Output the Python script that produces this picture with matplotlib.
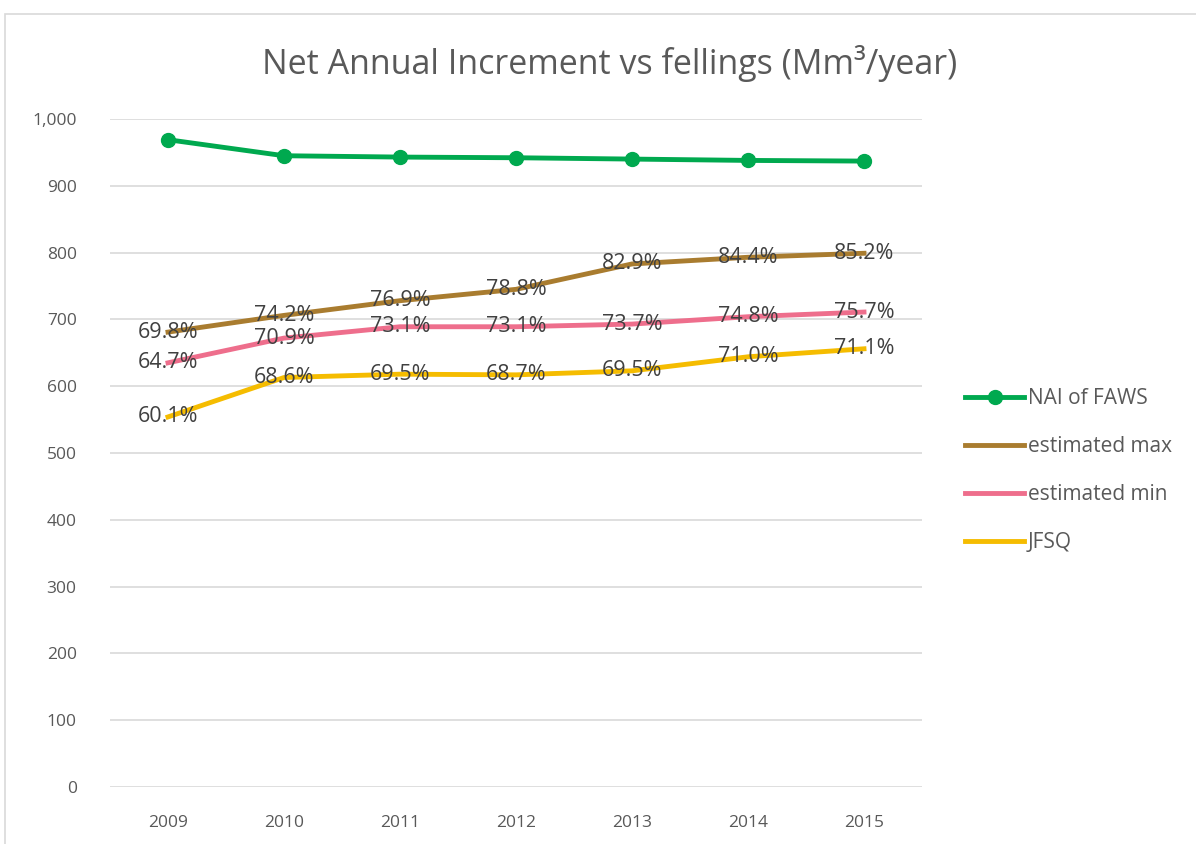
import numpy as np
import matplotlib.pyplot as plt
from matplotlib.patches import Rectangle
from matplotlib.ticker import FuncFormatter

years = ["2009", "2010", "2011", "2012", "2013", "2014", "2015"]

nai = [969, 945, 943, 942, 940, 938, 937]
est_max = [681, 706, 728, 745, 783, 793, 799]
est_min = [635, 672, 689, 689, 693, 704, 711]
jfsq = [554, 613, 618, 617, 623, 644, 656]

max_pct = ["69.8%", "74.2%", "76.9%", "78.8%", "82.9%", "84.4%", "85.2%"]
min_pct = ["64.7%", "70.9%", "73.1%", "73.1%", "73.7%", "74.8%", "75.7%"]
jfsq_pct = ["60.1%", "68.6%", "69.5%", "68.7%", "69.5%", "71.0%", "71.1%"]

plt.rcParams['font.family'] = ['Open Sans', 'DejaVu Sans']
GRAY = "#595959"

fig = plt.figure(figsize=(11.96, 8.44), dpi=100)
# outer chart border
fig.patches.append(Rectangle((5 / 1196, -0.01), 1.0, (844 - 14) / 844 + 0.01,
                             transform=fig.transFigure, fill=False,
                             edgecolor="#d9d9d9", linewidth=1.2))

ax = fig.add_axes([110 / 1196, 57 / 844, (922 - 110) / 1196, (787 - 119) / 844])
x = np.arange(len(years))

ax.plot(x, nai, color="#00A94F", lw=3.5, marker="o", ms=10, label="NAI of FAWS", zorder=3)
ax.plot(x, est_max, color="#A97C2F", lw=3.5, label="estimated max", zorder=3)
ax.plot(x, est_min, color="#EE6E8C", lw=3.5, label="estimated min", zorder=3)
ax.plot(x, jfsq, color="#F5BC00", lw=3.5, label="JFSQ", zorder=3)

for vals, labs in [(est_max, max_pct), (est_min, min_pct), (jfsq, jfsq_pct)]:
    for xi, v, t in zip(x, vals, labs):
        ax.text(xi, v, t, ha="center", va="center", fontsize=15.5,
                color="#404040", zorder=4)

ax.set_xlim(-0.5, len(years) - 0.5)
ax.set_ylim(0, 1000)
ax.set_yticks(np.arange(0, 1001, 100))
ax.yaxis.set_major_formatter(FuncFormatter(lambda v, p: f"{int(v):,}"))
ax.set_xticks(x)
ax.set_xticklabels(years)
ax.tick_params(axis="both", length=0, labelsize=12.5, colors=GRAY)
ax.tick_params(axis="y", pad=24)
ax.tick_params(axis="x", pad=20)
ax.grid(axis="y", color="#d9d9d9", lw=1.2)
ax.set_axisbelow(True)
for s in ax.spines.values():
    s.set_visible(False)

fig.text(610 / 1196, 1 - 63 / 844, "Net Annual Increment vs fellings (Mm³/year)",
         ha="center", va="center", fontsize=24.5, color=GRAY)

leg = ax.legend(loc="upper left", bbox_to_anchor=(1.03, 0.625), frameon=False,
                fontsize=15, handlelength=2.85, handletextpad=0.15,
                labelspacing=1.3, labelcolor=GRAY)

fig.savefig("out.png", dpi=100)
